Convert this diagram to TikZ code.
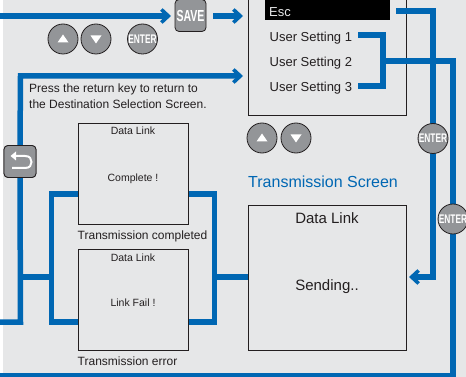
\documentclass[tikz,border=0pt]{standalone}
\usepackage{fontspec}
\usepackage{graphicx}
\setmainfont{Liberation Sans}
\usetikzlibrary{arrows.meta}
\definecolor{bgc}{HTML}{E6E7E8}
\definecolor{blu}{HTML}{0067B3}
\definecolor{btn}{HTML}{939598}
\definecolor{ink}{HTML}{231F20}
\tikzset{
  link/.style={draw=blu,line width=5.5pt,line join=miter},
  linka/.style={link,-{Straight Barb[length=7pt,width=13pt,line width=3.6pt]}},
  screen/.style={draw=ink,line width=.8pt,fill=bgc,inner sep=0pt,anchor=north west},
  lab/.style={inner sep=0pt,text=ink,anchor=base west},
  clab/.style={inner sep=0pt,text=ink,anchor=base},
  rbtn/.style={circle,draw=ink,line width=.8pt,fill=btn,minimum size=30pt,inner sep=0pt,text=white},
  sbtn/.style={rectangle,rounded corners=4pt,draw=ink,line width=.8pt,fill=btn,minimum size=32pt,inner sep=0pt,text=white},
  tri/.style={fill=white,draw=none},
}
\newcommand{\entertxt}{\scalebox{.67}[1]{\fontsize{12.5}{12.5}\selectfont\bfseries ENTER}}
\begin{document}
\begin{tikzpicture}[x=1pt,y=-1pt]
\useasboundingbox (0,0) rectangle (466,377);
\clip (0,0) rectangle (466,377);
\fill[white] (0,0) rectangle (466,377);
\fill[bgc] (3,0) rectangle (466,377);

% screens
\node[screen,minimum width=158pt,minimum height=145pt] (top) at (248,-30) {};
\node[screen,minimum width=110pt,minimum height=101pt] (done) at (78,123) {};
\node[screen,minimum width=110pt,minimum height=101pt] (fail) at (78,249) {};
\node[screen,minimum width=158pt,minimum height=145pt] (send) at (248,205) {};
\node[fill=black,minimum width=125pt,minimum height=30pt,inner sep=0pt,anchor=north west] (escbar) at (265,-10) {};

% buttons
\node[sbtn,minimum width=31pt] (save) at (190.5,15.5) {\scalebox{.66}[1]{\fontsize{16}{16}\selectfont\bfseries SAVE}};
\node[rbtn] (up1) at (63,39) {};
\node[rbtn] (dn1) at (96,39) {};
\node[rbtn] (ent1) at (142.5,39) {\entertxt};
\node[rbtn] (up2) at (262,138) {};
\node[rbtn] (dn2) at (296,138) {};
\node[sbtn] (ret) at (20,161.5) {};

% connector anchors
\coordinate (inL) at (0,16);
\coordinate (saveIn) at (171,16);
\coordinate (saveOut) at (213,16);
\coordinate (topIn1) at (243,16);
\coordinate (topIn2) at (243,76);
\coordinate (corner) at (20.5,76);
\coordinate (failL) at (0,322);
\coordinate (jL) at (20.5,277);
\coordinate (brL) at (51.5,277);
\coordinate (brR) at (214.5,277);
\coordinate (escOut) at (396,11);
\coordinate (escC) at (433,11);
\coordinate (sendIn) at (409,277);
\coordinate (u1) at (358,35);
\coordinate (u3) at (358,86);
\coordinate (uJ) at (383,61);
\coordinate (uC) at (453,61);
\coordinate (bl) at (0,375.5);
\coordinate (bc) at (453,375.5);

% connectors
\draw[linka] (inL) -- (saveIn);
\draw[linka] (saveOut) -- (topIn1);
\draw[linka] (ret.north) -- (corner) -- (topIn2);
\draw[link] (ret.south) -- (jL |- failL) -- (failL);
\draw[link] (jL) -- (brL);
\draw[link] (done.west |- 0,194) -- (brL |- 0,194) -- (brL |- failL) -- (fail.west |- failL);
\draw[link] (done.east |- 0,194) -- (brR |- 0,194) -- (brR |- failL) -- (fail.east |- failL);
\draw[link] (brR) -- (send.west |- brR);
\draw[linka] (escOut) -- (escC) -- (escC |- sendIn) -- (sendIn);
\draw[link] (u1) -- (uJ |- u1) -- (uJ |- u3) -- (u3);
\draw[link] (uJ) -- (uC) -- (bc) -- (bl);

% redraw buttons over the connectors
\node[sbtn] at (ret) {};
\draw[white,line width=2pt] (14,156) -- (25,156) .. controls (30,156) and (31.5,159) .. (31.5,162) .. controls (31.5,165) and (30,168) .. (25,168) -- (12,168);
\fill[white] (10.5,156) -- (16,151.5) -- (16,160.5) -- cycle;
\node[rbtn] at (433,138.5) (ent2) {\entertxt};
\node[rbtn] at (453,219) (ent3) {\entertxt};

% triangles
\fill[tri] ([shift={(0,-4.5)}]up1.center) -- ([shift={(5.5,3.5)}]up1.center) -- ([shift={(-5.5,3.5)}]up1.center) -- cycle;
\fill[tri] ([shift={(0,4.5)}]dn1.center) -- ([shift={(5.5,-3.5)}]dn1.center) -- ([shift={(-5.5,-3.5)}]dn1.center) -- cycle;
\fill[tri] ([shift={(0,-4.5)}]up2.center) -- ([shift={(5.5,3.5)}]up2.center) -- ([shift={(-5.5,3.5)}]up2.center) -- cycle;
\fill[tri] ([shift={(0,4.5)}]dn2.center) -- ([shift={(5.5,-3.5)}]dn2.center) -- ([shift={(-5.5,-3.5)}]dn2.center) -- cycle;

% labels
\node[lab,text=bgc,font=\fontsize{13}{13}\selectfont] (tEsc) at (269,16.5) {Esc};
\node[lab,font=\fontsize{13}{13}\selectfont] (tU1) at (269.5,41.5) {User Setting 1};
\node[lab,font=\fontsize{13}{13}\selectfont] (tU2) at (269.5,66.5) {User Setting 2};
\node[lab,font=\fontsize{13}{13}\selectfont] (tU3) at (269.5,92) {User Setting 3};
\node[lab,font=\fontsize{12}{12}\selectfont] (tP1) at (29,93) {Press the return key to return to};
\node[lab,font=\fontsize{12}{12}\selectfont] (tP2) at (29,109) {the Destination Selection Screen.};
\node[clab,font=\fontsize{10.5}{10.5}\selectfont] (tD1) at (133,135) {Data Link};
\node[clab,font=\fontsize{10.5}{10.5}\selectfont] (tC) at (133,182) {Complete !};
\node[lab,font=\fontsize{12}{12}\selectfont] (tTC) at (77.5,239) {Transmission completed};
\node[clab,font=\fontsize{10.5}{10.5}\selectfont] (tD2) at (133,261) {Data Link};
\node[clab,font=\fontsize{10.5}{10.5}\selectfont] (tF) at (133,306) {Link Fail !};
\node[lab,font=\fontsize{12}{12}\selectfont] (tTE) at (77.5,365) {Transmission error};
\node[lab,text=blu,font=\fontsize{16}{16}\selectfont] (tTS) at (248,187) {Transmission Screen};
\node[clab,font=\fontsize{15}{15}\selectfont] (tD3) at (327,223) {Data Link};
\node[clab,font=\fontsize{15}{15}\selectfont] (tS) at (327,290) {Sending..};
\end{tikzpicture}
\end{document}
